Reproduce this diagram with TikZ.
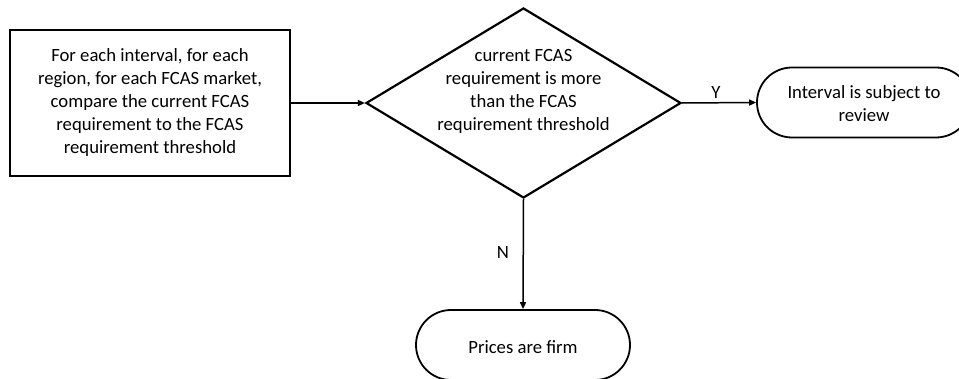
\documentclass[tikz,border=0pt]{standalone}
\usepackage{fontspec}
\setmainfont{Carlito}
\usetikzlibrary{shapes.geometric,shapes.misc,arrows.meta}
\tikzset{
  txt/.style={font=\fontsize{18.7}{23}\selectfont, align=center},
  procbox/.style={draw, line width=2.6pt, minimum width=280pt, minimum height=146pt, inner sep=0pt},
  decbox/.style={draw, diamond, line width=2.2pt, minimum width=315pt, minimum height=190pt, inner sep=0pt},
  termbox/.style={draw, rounded rectangle, line width=1.8pt, minimum width=214pt, minimum height=70pt, inner sep=0pt},
  conn/.style={line width=1.5pt, -{Triangle[length=7pt,width=6pt]}},
  lbl/.style={font=\fontsize{18.7}{22}\selectfont}
}
\begin{document}
\begin{tikzpicture}[x=1pt,y=-1pt]
\useasboundingbox (0,0) rectangle (959,379);
\clip (0,0) rectangle (959,379);
\fill[white] (0,0) rectangle (959,379);
\node[procbox] (proc) at (150,103) {};
\node[txt] (proct) at (proc.center) {For each interval, for each\\region, for each FCAS market,\\compare the current FCAS\\requirement to the FCAS\\requirement threshold};
\node[decbox] (dec) at (523.5,103) {};
\node[txt] (dect) at (523.5,91) {current FCAS\\requirement is more\\than the FCAS\\requirement threshold};
\node[termbox] (rev) at (864,102.5) {};
\node[txt] (revt) at (864,104) {Interval is subject to\\review};
\node[termbox] (firm) at (523,345) {};
\node[txt] (firmt) at (523,347) {Prices are firm};
\draw[conn] (proc.east) -- (dec.west);
\draw[conn] (dec.east) -- (rev.west);
\draw[conn] (dec.south) -- (firm.north);
\node[lbl] (ylbl) at (716,93) {Y};
\node[lbl] (nlbl) at (503,253) {N};
\end{tikzpicture}
\end{document}
